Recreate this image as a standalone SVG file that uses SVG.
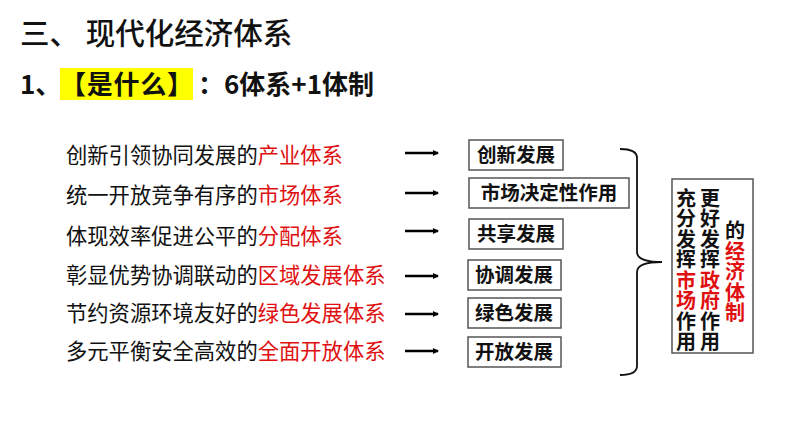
<svg xmlns="http://www.w3.org/2000/svg" width="794" height="447" viewBox="0 0 794 447">
<defs>
<style>
.t{font-family:"Noto Sans CJK SC","Liberation Sans",sans-serif;}
.item{font-size:21.3px;fill:#111;}
.r{fill:#e01010;}
.box{fill:#fff;stroke:#555;stroke-width:1.5;}
.bt{font-size:19.5px;font-weight:bold;fill:#111;text-anchor:middle;}
.arr{stroke:#000;stroke-width:2.5;fill:none;marker-end:url(#ah);}
.vt{font-size:20px;font-weight:bold;fill:#111;writing-mode:vertical-rl;letter-spacing:0.5px;}
</style>
<marker id="ah" viewBox="0 0 6 6" refX="5" refY="3" markerWidth="2.4" markerHeight="2.4" orient="auto"><path d="M0,0 L6,3 L0,6 Z" fill="#000"/></marker>
</defs>
<rect width="794" height="447" fill="#fff"/>
<g id="title">
<text class="t" x="20" y="44" font-size="29.5" font-weight="500" fill="#111">三、 现代化经济体系</text>
</g>
<g id="subtitle">
<rect x="60" y="68" width="133" height="32" fill="#ffff00"/>
<text class="t" x="20" y="94" font-size="26" font-weight="bold" fill="#111">1、</text>
<text class="t" x="60" y="94" font-size="26" font-weight="bold" fill="#111" textLength="133">【是什么】</text>
<text class="t" x="198" y="94" font-size="26" font-weight="bold" fill="#111">：6体系+1体制</text>
</g>
<g id="list">
<text class="t item" x="66" y="163">创新引领协同发展的<tspan class="r">产业体系</tspan></text>
<text class="t item" x="66" y="203">统一开放竞争有序的<tspan class="r">市场体系</tspan></text>
<text class="t item" x="66" y="244">体现效率促进公平的<tspan class="r">分配体系</tspan></text>
<text class="t item" x="66" y="283">彰显优势协调联动的<tspan class="r">区域发展体系</tspan></text>
<text class="t item" x="66" y="321">节约资源环境友好的<tspan class="r">绿色发展体系</tspan></text>
<text class="t item" x="66" y="359">多元平衡安全高效的<tspan class="r">全面开放体系</tspan></text>
</g>
<g id="connectors">
<line class="arr" x1="405" y1="153" x2="438" y2="153"/>
<line class="arr" x1="405" y1="193" x2="438" y2="193"/>
<line class="arr" x1="405" y1="231" x2="438" y2="231"/>
<line class="arr" x1="405" y1="276" x2="438" y2="276"/>
<line class="arr" x1="405" y1="314" x2="438" y2="314"/>
<line class="arr" x1="405" y1="351" x2="438" y2="351"/>
<path d="M620,149 Q637,149 637,158 L637,252 Q637,262 662,262 Q637,262 637,272 L637,366 Q637,375 620,375" fill="none" stroke="#111" stroke-width="1.8"/>
</g>
<g id="n1"><rect class="box" x="469" y="140" width="94" height="30"/><text class="t bt" x="516" y="162">创新发展</text></g>
<g id="n2"><rect class="box" x="469" y="178" width="160" height="30"/><text class="t bt" x="549" y="200">市场决定性作用</text></g>
<g id="n3"><rect class="box" x="469" y="219" width="94" height="30"/><text class="t bt" x="516" y="241">共享发展</text></g>
<g id="n4"><rect class="box" x="468" y="260" width="93" height="30"/><text class="t bt" x="514" y="282">协调发展</text></g>
<g id="n5"><rect class="box" x="468" y="298" width="93" height="30"/><text class="t bt" x="514" y="320">绿色发展</text></g>
<g id="n6"><rect class="box" x="468" y="337" width="93" height="30"/><text class="t bt" x="514" y="359">开放发展</text></g>
<g id="n7">
<rect class="box" x="672" y="179" width="81" height="174"/>
<text class="t vt" x="686" y="188">充分发挥<tspan class="r">市场</tspan>作用</text>
<text class="t vt" x="710" y="188">更好发挥<tspan class="r">政府</tspan>作用</text>
<text class="t vt" x="735" y="220">的<tspan class="r">经济体制</tspan></text>
</g>
</svg>
